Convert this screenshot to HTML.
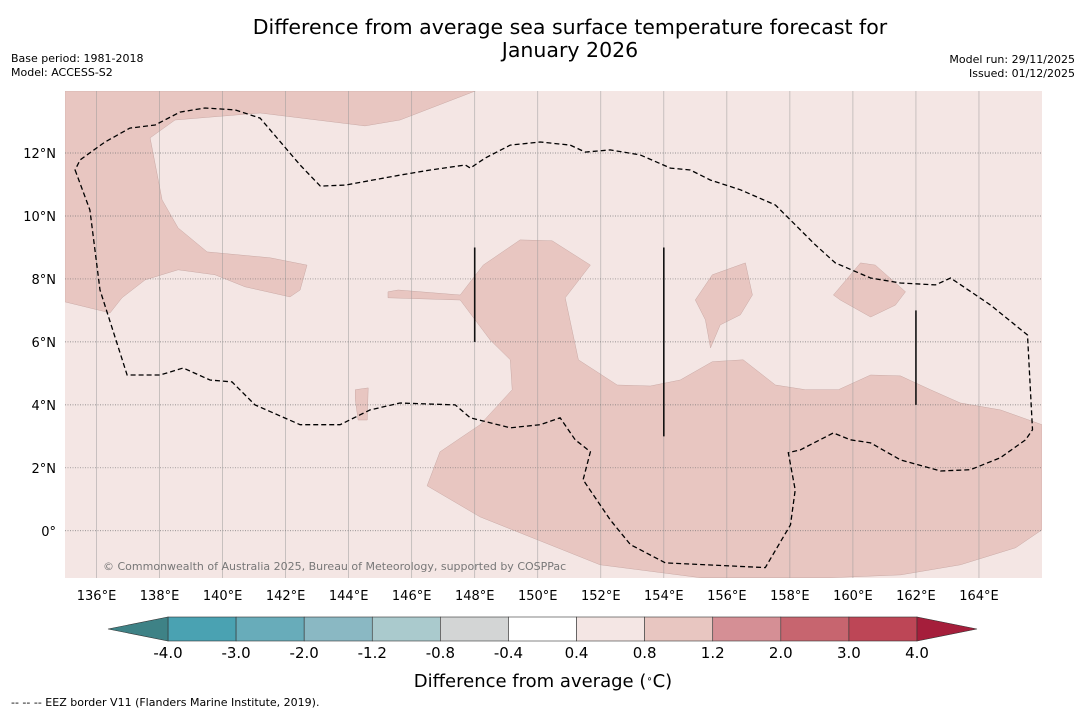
<!DOCTYPE html>
<html><head><meta charset="utf-8"><style>
body{margin:0;background:#fff;width:1085px;height:713px;overflow:hidden;font-family:"DejaVu Sans","Liberation Sans",sans-serif}
</style></head><body>
<svg id="c" width="1085" height="713" xmlns="http://www.w3.org/2000/svg" font-family="DejaVu Sans, Liberation Sans, sans-serif">
<text x="570" y="34" font-size="20.5" text-anchor="middle">Difference from average sea surface temperature forecast for</text>
<text x="570" y="57" font-size="20.5" text-anchor="middle">January 2026</text>
<text x="11" y="62" font-size="11">Base period: 1981-2018</text>
<text x="11" y="76" font-size="11">Model: ACCESS-S2</text>
<text x="1075" y="63" font-size="11" text-anchor="end">Model run: 29/11/2025</text>
<text x="1075" y="77" font-size="11" text-anchor="end">Issued: 01/12/2025</text>
<g id="map"></g>
<g id="cbar"></g>
<text x="543" y="687" font-size="18" text-anchor="middle">Difference from average (<tspan baseline-shift="super" font-size="10">∘</tspan>C)</text>
<text x="11" y="706" font-size="11">--  --  -- EEZ border V11 (Flanders Marine Institute, 2019).</text>
</svg>
<script>
const lonTicks=[136,138,140,142,144,146,148,150,152,154,156,158,160,162,164];
const latTicks=[0,2,4,6,8,10,12];
const warmA=[[135,13.97],[148.02,13.97],[145.63,13.05],[144.52,12.86],[141.19,13.27],[138.49,13.05],[137.7,12.48],[138.08,10.51],[138.59,9.62],[139.51,8.86],[141.51,8.67],[142.68,8.44],[142.46,7.65],[142.14,7.43],[140.71,7.75],[139.76,8.13],[138.59,8.29],[137.54,7.97],[136.81,7.4],[136.43,6.92],[135,7.27]];
const warmB=[[145.25,7.59],[145.57,7.65],[147.54,7.49],[148.27,8.44],[149.44,9.24],[150.46,9.21],[151.67,8.44],[150.87,7.4],[151.29,5.43],[152.52,4.63],[153.57,4.6],[154.52,4.79],[155.54,5.37],[156.52,5.43],[157.54,4.63],[158.49,4.48],[159.54,4.48],[160.56,4.95],[161.51,4.92],[162.46,4.48],[163.41,4.06],[164.68,3.84],[166,3.37],[166,0.03],[165.16,-0.54],[163.41,-1.08],[161.51,-1.4],[159.29,-1.49],[155.16,-1.49],[151.98,-1.08],[148.17,0.44],[146.49,1.43],[146.9,2.51],[148.17,3.37],[149.19,4.48],[149.13,5.43],[148.49,6.06],[147.54,7.33],[145.25,7.4]];
const warmC=[[155,7.33],[155.54,8.13],[156.59,8.51],[156.81,7.49],[156.43,6.86],[155.79,6.54],[155.48,5.81],[155.32,6.7]];
const warmD=[[159.38,7.49],[160.24,8.51],[160.71,8.44],[161.67,7.59],[161.35,7.17],[160.56,6.79],[159.6,7.33]];
const warmE=[[144.21,4.48],[144.62,4.54],[144.59,3.52],[144.3,3.52],[144.21,4.16]];
const eez=[[135.32,11.46],[135.79,10.19],[136.11,7.65],[136.97,4.95],[138.02,4.95],[138.75,5.17],[139.6,4.79],[140.3,4.73],[141.03,4.0],[142.46,3.37],[143.73,3.37],[144.68,3.84],[145.63,4.06],[147.38,4.0],[147.86,3.59],[149.13,3.27],[150.08,3.37],[150.71,3.59],[151.19,2.89],[151.67,2.51],[151.44,1.62],[152.3,0.35],[152.94,-0.44],[154.05,-1.02],[157.22,-1.17],[158.02,0.19],[158.17,1.3],[157.95,2.48],[158.33,2.57],[159.38,3.11],[159.92,2.89],[160.56,2.79],[161.51,2.25],[162.78,1.9],[163.73,1.94],[164.68,2.32],[165.48,2.89],[165.7,3.21],[165.54,6.22],[164.37,7.17],[163.1,8.03],[162.62,7.81],[161.51,7.87],[160.56,8.03],[159.44,8.51],[158.81,9.08],[157.54,10.35],[156.43,10.83],[155.48,11.14],[154.84,11.46],[154.21,11.52],[153.25,11.94],[152.3,12.1],[151.51,12.03],[151.03,12.25],[150.08,12.35],[149.13,12.25],[148.33,11.84],[147.86,11.52],[147.7,11.62],[146.59,11.46],[145.63,11.3],[143.89,10.98],[143.1,10.95],[142.46,11.62],[141.19,13.11],[140.4,13.37],[139.44,13.43],[138.65,13.3],[137.86,12.89],[137.06,12.79],[136.27,12.35],[135.48,11.78]];
const segLon=[148,154,162];
const segLat0=[6,3,4];
const segLat1=[9,9,7];
const cbLevels=["-4.0","-3.0","-2.0","-1.2","-0.8","-0.4","0.4","0.8","1.2","2.0","3.0","4.0"];
const cbColors=["#4aa2b2","#68acba","#8ab8c3","#aacacd","#d3d5d5","#ffffff","#f4e6e4","#e8c6c1","#d58f95","#c7656f","#bd4656"];
const NS="http://www.w3.org/2000/svg";
const L=65,R=1042,T=91,B=578,lon0=135,lon1=166,lat0=-1.5,lat1=13.97;
const xs=v=>L+(v-lon0)/(lon1-lon0)*(R-L);
const ys=v=>B-(v-lat0)/(lat1-lat0)*(B-T);
function mk(tag,attrs,parent){const e=document.createElementNS(NS,tag);for(const k in attrs)e.setAttribute(k,attrs[k]);parent.appendChild(e);return e;}
const map=document.getElementById('map');
const cp=mk('clipPath',{id:'clp'},map);mk('rect',{x:L,y:T,width:R-L,height:B-T},cp);
const g=mk('g',{'clip-path':'url(#clp)'},map);
let bg=mk('rect',{x:L,y:T,width:R-L,height:B-T,fill:'#f4e6e4'},g);


const pts=a=>a.map(p=>xs(p[0]).toFixed(1)+','+ys(p[1]).toFixed(1)).join(' ');
[[warmA,'warm-region-west'],[warmB,'warm-region-central'],[warmC,'warm-patch-156e'],[warmD,'warm-patch-160e'],[warmE,'warm-patch-144e']].forEach(([a,n])=>{
 const p=mk('polygon',{points:pts(a),fill:'#e8c6c1',stroke:'#c9a9a5','stroke-width':0.5},g);
 
 
});
lonTicks.forEach(v=>{
 const l=mk('line',{x1:xs(v),x2:xs(v),y1:T,y2:B,stroke:'#999','stroke-width':0.7,'stroke-opacity':0.7},g);
 
 
 const t=mk('text',{x:xs(v),y:B+22,'font-size':13,'text-anchor':'middle'},map);t.textContent=v+'°E';
 
 
});
latTicks.forEach(v=>{
 const l=mk('line',{x1:L,x2:R,y1:ys(v),y2:ys(v),stroke:'#777','stroke-width':0.7,'stroke-dasharray':'1,1.5'},g);
 
 
 const t=mk('text',{x:L-9,y:ys(v)+5,'font-size':13,'text-anchor':'end'},map);t.textContent=v===0?'0°':v+'°N';
 
 
});
const ez=mk('polygon',{points:pts(eez),fill:'none',stroke:'#000','stroke-width':1.3,'stroke-dasharray':'5,3'},g);


segLon.forEach((v,i)=>{
 const l=mk('line',{x1:xs(v),x2:xs(v),y1:ys(segLat0[i]),y2:ys(segLat1[i]),stroke:'#111','stroke-width':1.6},g);
 
 
});
const cr=mk('text',{x:103,y:570,'font-size':11,fill:'#777'},g);cr.textContent='© Commonwealth of Australia 2025, Bureau of Meteorology, supported by COSPPac';


const cb=document.getElementById('cbar');
const cx0=168,cx1=917,cy=617,ch=24,n=cbColors.length,w=(cx1-cx0)/n;
cbColors.forEach((c,i)=>{
 const r=mk('rect',{x:cx0+i*w,y:cy,width:w,height:ch,fill:c,stroke:'#333','stroke-width':0.6},cb);
 
 
});
let tl=mk('polygon',{points:`${cx0},${cy} ${cx0},${cy+ch} 108,${cy+ch/2}`,fill:'#3e8286',stroke:'#333','stroke-width':0.6},cb);


let tr=mk('polygon',{points:`${cx1},${cy} ${cx1},${cy+ch} 977,${cy+ch/2}`,fill:'#a51e3b',stroke:'#333','stroke-width':0.6},cb);


cbLevels.forEach((s,i)=>{
 const t=mk('text',{x:cx0+i*w,y:658,'font-size':15,'text-anchor':'middle'},cb);t.textContent=s;
 
 
});
</script>
</body></html>
